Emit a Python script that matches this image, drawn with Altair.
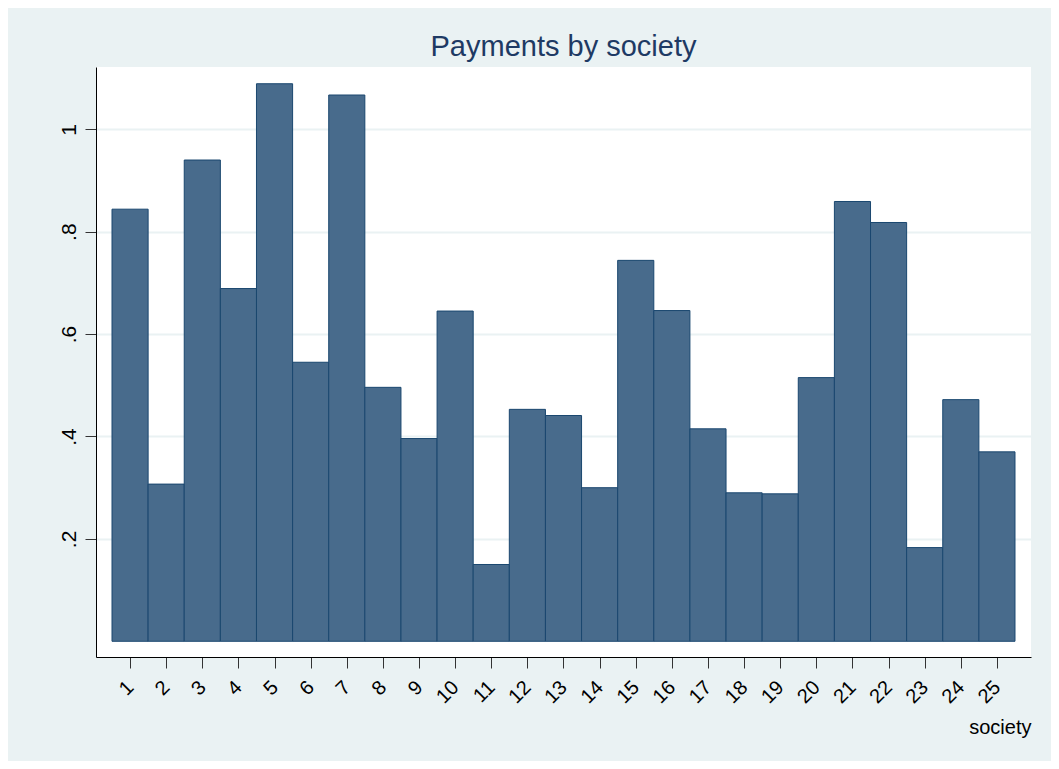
import altair as alt
import pandas as pd

society = list(range(1, 26))
payments = [0.844, 0.307, 0.940, 0.689, 1.089, 0.545, 1.067, 0.496, 0.396, 0.645,
            0.150, 0.453, 0.441, 0.300, 0.744, 0.646, 0.415, 0.290, 0.288, 0.515,
            0.859, 0.818, 0.183, 0.472, 0.370]
y_ticks = [0.2, 0.4, 0.6, 0.8, 1.0]

df = pd.DataFrame({"society": society, "payments": payments})
df["lo"] = df["society"] - 0.5
df["hi"] = df["society"] + 0.5

FONT = "Liberation Sans"

chart = alt.Chart(df).mark_bar(
    fill="#486B8C", stroke="#1A476F", strokeWidth=1
).encode(
    x=alt.X("lo:Q",
            scale=alt.Scale(domain=[0.057, 25.943], nice=False, zero=False),
            axis=alt.Axis(values=society, title="society", grid=False,
                          labelAngle=315, labelAlign="right", labelBaseline="middle",
                          labelPadding=16, labelFontSize=20, labelFont=FONT,
                          labelColor="#000000", tickSize=11, tickColor="#333333",
                          domainColor="#000000", labelFlush=False, labelOverlap=False,
                          titleFont=FONT, titleFontSize=20, titleFontWeight="normal",
                          titleColor="#000000", titleAnchor="end", titleAlign="right",
                          titleBaseline="alphabetic", titleX=935, titleY=76)),
    x2="hi:Q",
    y=alt.Y("payments:Q",
            scale=alt.Scale(domain=[-0.0307, 1.1217], nice=False, zero=False),
            axis=alt.Axis(values=y_ticks, title=None, grid=True, gridColor="#EAF2F3",
                          gridWidth=2, labelAngle=270, labelAlign="center",
                          labelBaseline="alphabetic", labelPadding=10,
                          labelFontSize=21, labelFont=FONT, labelColor="#000000",
                          labelExpr="datum.value >= 0.999 ? '1' : '.' + round(datum.value * 10)",
                          tickSize=11, tickColor="#333333", domainColor="#000000",
                          labelOverlap=False)),
    y2=alt.datum(0),
).properties(
    width=935,
    height=590,
    title=alt.TitleParams("Payments by society", font=FONT, fontSize=29,
                          fontWeight="normal", color="#1E3A64", anchor="middle",
                          baseline="alphabetic", offset=10, dy=28),
    autosize=alt.AutoSizeParams(type="none"),
    padding={"left": 88, "top": 59, "right": 20, "bottom": 104},
    background="#EAF2F3",
).configure_view(
    fill="#FFFFFF", stroke=None
)

chart.save("out.html", embed_options={"renderer": "svg", "actions": False})
